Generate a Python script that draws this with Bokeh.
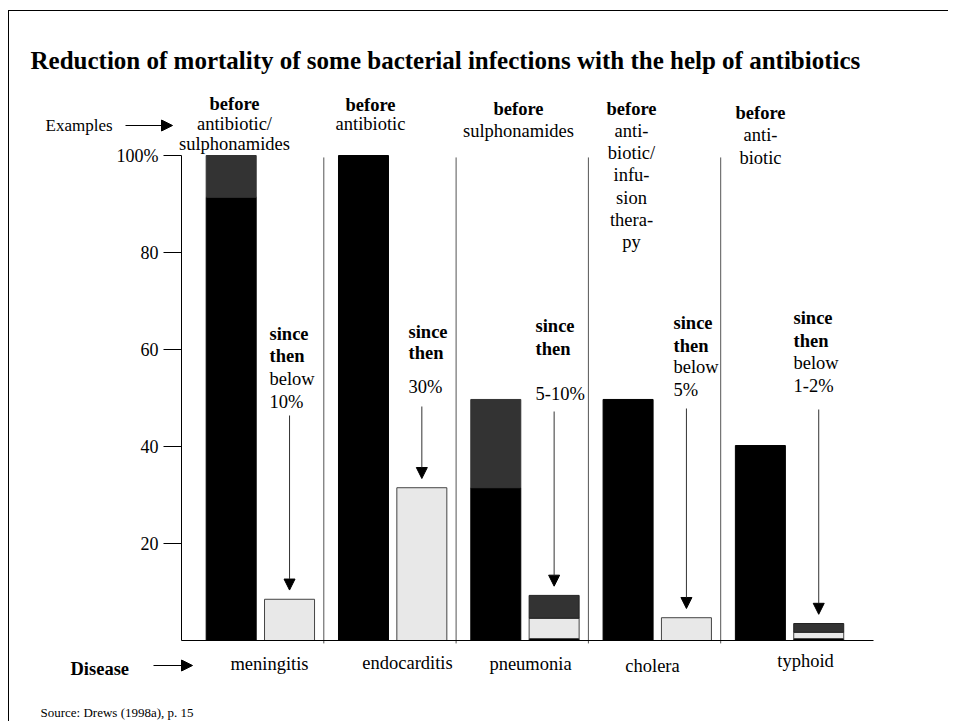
import numpy as np
from bokeh.plotting import figure
from bokeh.models import Range1d, Label, Arrow, NormalHead, FixedTicker
from bokeh.embed import file_html
from bokeh.resources import INLINE

# ---------------- data ----------------
diseases = ["meningitis", "endocarditis", "pneumonia", "cholera", "typhoid"]
before_black = [91.4, 100.0, 31.5, 49.7, 40.2]
before_dark = [8.6, 0.0, 18.2, 0.0, 0.0]
since_base = [0.0, 0.0, 0.4, 0.0, 0.4]
since_light = [8.5, 31.5, 4.2, 4.7, 1.3]
since_dark = [0.0, 0.0, 4.7, 0.0, 1.8]
before_text = [["antibiotic/", "sulphonamides"], ["antibiotic"], ["sulphonamides"],
               ["anti-", "biotic/", "infu-", "sion", "thera-", "py"], ["anti-", "biotic"]]
since_text = [["below", "10%"], ["30%"], ["5-10%"], ["below", "5%"], ["below", "1-2%"]]
y_ticks = [20, 40, 60, 80, 100]
y_tick_labels = {100: "100%"}
title = "Reduction of mortality of some bacterial infections with the help of antibiotics"
source = "Source: Drews (1998a), p. 15"

# ---------------- layout ----------------
W, H = 940, 711
OX, OY = 9, 11                 # canvas origin on the page
FL, FR, FT, FB = 181, 873, 155, 640   # plot area (axis box) on the page
XS, XE = -0.0756, 5.155        # data x at FL / FR
FONT = "Liberation Serif"
FS = "18.5px"


def dx(sx):
    return XS + (sx - FL) * (XE - XS) / (FR - FL)


def dy(sy):
    return (FB - sy) * 100.0 / (FB - FT)


p = figure(width=W, height=H, title=None,
           x_range=Range1d(dx(OX), dx(OX + W)), y_range=Range1d(dy(OY + H), dy(OY)),
           output_backend="svg", toolbar_location=None, min_border=0)
p.styles = {"border-left": "1px solid black", "border-top": "1px solid black",
            "margin-top": "10px", "margin-left": "8px"}
p.outline_line_color = None
p.grid.visible = False
p.background_fill_color = "white"
p.border_fill_color = "white"

idx = np.arange(len(diseases))
bx = idx + 0.30
sx = idx + 0.741
bw = 0.378

bb = np.array(before_black)
bd = np.array(before_dark)
sb = np.array(since_base)
sl = np.array(since_light)
sd = np.array(since_dark)

# separators between groups
p.segment(x0=idx[1:], y0=-0.6, x1=idx[1:], y1=99.6, line_color="#555555", line_width=1)

# before bars
p.vbar(x=bx, bottom=0, top=bb, width=bw, fill_color="black", line_color="black")
m = bd > 0
p.vbar(x=bx[m], bottom=bb[m], top=(bb + bd)[m], width=bw, fill_color="#333333", line_color="#333333")

# since bars
m = sb > 0
p.vbar(x=sx[m], bottom=0, top=sb[m], width=bw, fill_color="black", line_color="#222222")
p.vbar(x=sx, bottom=sb, top=sb + sl, width=bw, fill_color="#e8e8e8", line_color="#444444", line_width=1)
m = sd > 0
p.vbar(x=sx[m], bottom=(sb + sl)[m], top=(sb + sl + sd)[m], width=bw, fill_color="#333333",
       line_color="#222222", line_width=1)

# axes (fixed inside the canvas)
p.xaxis.fixed_location = 0
p.xaxis.bounds = (XS, XE)
p.xaxis.ticker = FixedTicker(ticks=[])
p.xaxis.major_label_text_font_size = "0px"
p.xaxis.major_tick_line_color = None
p.xaxis.minor_tick_line_color = None
p.xaxis.axis_line_color = "black"

p.yaxis.fixed_location = XS
p.yaxis.bounds = (0, 100)
p.yaxis.ticker = FixedTicker(ticks=y_ticks)
p.yaxis.major_label_overrides = y_tick_labels
p.yaxis.major_tick_out = 18
p.yaxis.major_tick_in = 0
p.yaxis.minor_tick_line_color = None
p.yaxis.major_label_standoff = 5
p.yaxis.axis_line_color = "black"
p.yaxis.major_tick_line_color = "black"
p.yaxis.major_label_text_font = FONT
p.yaxis.major_label_text_font_size = "18px"
p.yaxis.major_label_text_color = "black"


def lab(text, sxp, syp, size=FS, bold=False, align="center"):
    p.add_layout(Label(x=dx(sxp), y=dy(syp), text=text, text_font=FONT, text_font_size=size,
                       text_font_style="bold" if bold else "normal", text_align=align,
                       text_baseline="middle", text_color="black"))


def harrow(x0, x1, y):
    p.add_layout(Arrow(end=NormalHead(size=11, fill_color="black", line_color="black"),
                       x_start=dx(x0), y_start=dy(y), x_end=dx(x1), y_end=dy(y),
                       line_color="black", line_width=1))


# title and side texts
lab(title, 30, 60, size="25px", bold=True, align="left")
lab("Examples", 45, 125, size="17px", align="left")
harrow(125, 172, 125)
lab("Disease", 70, 668, bold=True, align="left")
harrow(153, 192, 665)
lab(source, 40, 712, size="13px", align="left")

# headers ("before ...")
head_cx = [234, 370, 518, 631, 760]
head_y0 = [103, 104, 108, 108, 112]
head_step = [20, 19, 22, 22.3, 22.5]
for i in range(len(diseases)):
    lab("before", head_cx[i], head_y0[i], bold=True)
    for k, t in enumerate(before_text[i]):
        lab(t, head_cx[i], head_y0[i] + (k + 1) * head_step[i])

# "since then ..." texts
since_lx = [269, 408, 535, 673, 793]
since_ys = [[333, 355, 378, 401], [331, 352, 386], [325, 348, 393],
            [322, 345, 366, 389], [317, 340, 362, 385]]
arrow_top = [415, 406, 411, 408, 409]
for i in range(len(diseases)):
    ys = since_ys[i]
    lab("since", since_lx[i], ys[0], bold=True, align="left")
    lab("then", since_lx[i], ys[1], bold=True, align="left")
    for k, t in enumerate(since_text[i]):
        lab(t, since_lx[i], ys[2 + k], align="left")
    top = sb[i] + sl[i] + sd[i]
    p.add_layout(Arrow(end=NormalHead(size=11, fill_color="black", line_color="black"),
                       x_start=sx[i], y_start=dy(arrow_top[i]), x_end=sx[i], y_end=top + 1.9,
                       line_color="#333333", line_width=1))

# disease names
disease_cx = [269, 407, 530, 652, 805]
disease_y = [663, 662, 663, 665, 660]
for i, d in enumerate(diseases):
    lab(d, disease_cx[i], disease_y[i])

open("out.html", "w").write(file_html(p, INLINE))
